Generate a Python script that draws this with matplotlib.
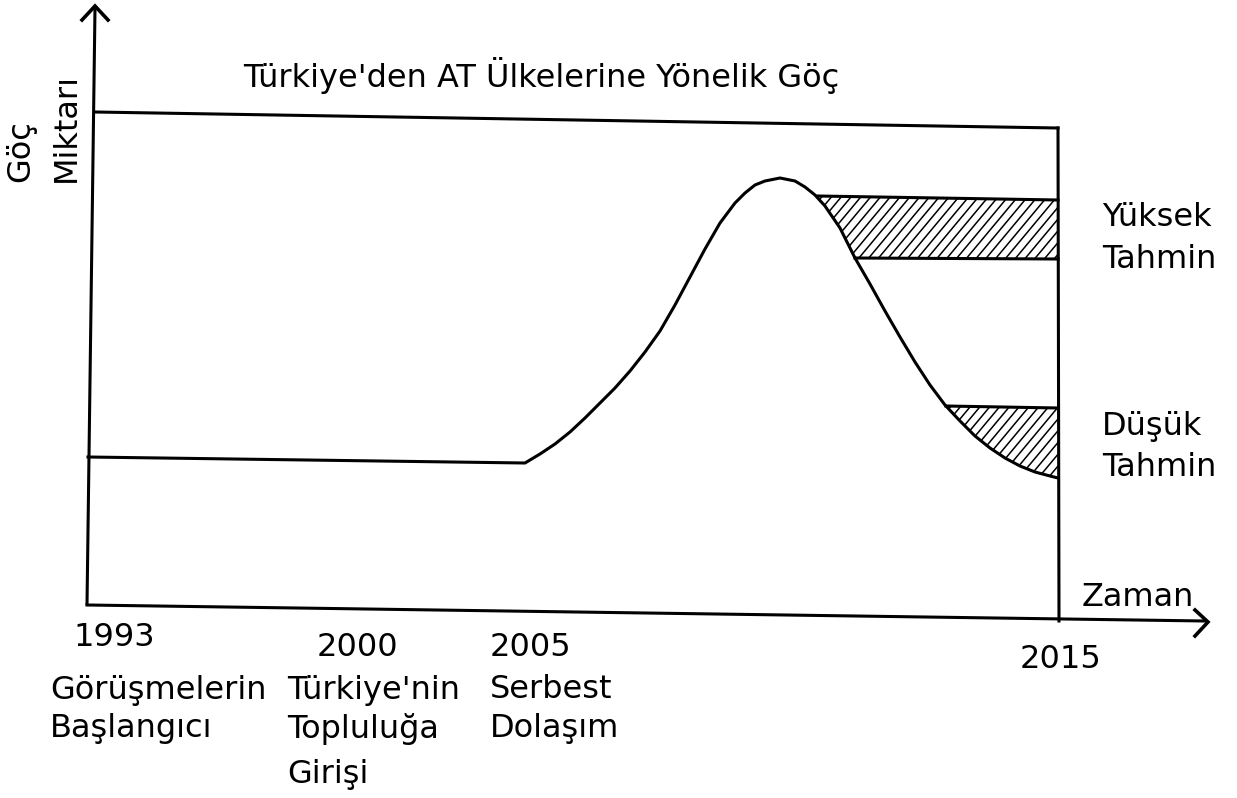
import matplotlib
matplotlib.use("Agg")
import matplotlib.pyplot as plt
import numpy as np
from matplotlib.patches import Polygon

# curve (pixel-like units, y grows downward)
curve_x = [88, 525, 540, 555, 570, 585, 600, 615, 630, 645, 660, 675, 690, 705,
           720, 735, 745, 755, 765, 780, 795, 805, 815, 825, 840, 855, 870, 885,
           900, 915, 930, 945, 960, 975, 990, 1005, 1020, 1035, 1050, 1058]
curve_y = [457, 463, 454, 444, 432, 418, 403, 388, 371, 352, 331, 305, 277, 249,
           223, 203, 193, 185, 181, 178, 181, 187, 195, 206, 228, 258, 284, 311,
           337, 362, 385, 405, 421, 436, 448, 458, 466, 472, 476, 478]

# forecast bands
high_top_x, high_top_y = [818, 1058], [196, 200]
high_bot_x, high_bot_y = [855, 1058], [258, 259]
low_top_x, low_top_y = [946, 1058], [406, 408]

years = ["1993", "2000", "2005", "2015"]
events = [["Görüşmelerin", "Başlangıcı"],
          ["Türkiye'nin", "Topluluğa", "Girişi"],
          ["Serbest", "Dolaşım"]]

FS = 23
LW = 2.2

fig = plt.figure(figsize=(12.37, 7.98), dpi=100)
ax = fig.add_axes([0, 0, 1, 1])
ax.set_xlim(0, 1237)
ax.set_ylim(798, 0)
ax.axis("off")

cx = np.array(curve_x)
cy = np.array(curve_y)

# frame: axes, top line, right line
ax.plot([95, 87], [8, 605], color="k", lw=LW, solid_capstyle="butt")
ax.plot([87, 1205], [605, 621], color="k", lw=LW)
ax.plot([95, 1058], [112, 128], color="k", lw=LW)
ax.plot([1058, 1059], [128, 621], color="k", lw=LW)
# arrow heads
ax.plot([82, 95, 108], [20, 6, 20], color="k", lw=2.6, solid_joinstyle="miter")
ax.plot([1195, 1208, 1195], [610, 622, 636], color="k", lw=2.6, solid_joinstyle="miter")

ax.plot(cx, cy, color="k", lw=LW, solid_joinstyle="round")

# band edges
ax.plot(high_top_x, high_top_y, color="k", lw=LW)
ax.plot(high_bot_x, high_bot_y, color="k", lw=LW)
ax.plot(low_top_x, low_top_y, color="k", lw=LW)

# hatched regions
m1 = (cx > high_top_x[0]) & (cx < high_bot_x[0])
high_poly = ([(high_top_x[0], high_top_y[0]), (high_top_x[1], high_top_y[1]),
              (high_bot_x[1], high_bot_y[1]), (high_bot_x[0], high_bot_y[0])]
             + list(zip(cx[m1][::-1], cy[m1][::-1])))
m2 = cx > low_top_x[0]
low_poly = ([(low_top_x[0], low_top_y[0]), (low_top_x[1], low_top_y[1])]
            + list(zip(cx[m2][::-1], cy[m2][::-1])))

slope = 1.2
for pts in (high_poly, low_poly):
    patch = Polygon(pts, closed=True, facecolor="none", edgecolor="none")
    ax.add_patch(patch)
    for x0 in np.arange(400, 1300, 9.8):
        ln, = ax.plot([x0, x0 + 400 / slope], [550, 150], color="k", lw=1.1)
        ln.set_clip_path(patch)

ax.text(243, 75, "Türkiye'den AT Ülkelerine Yönelik Göç", fontsize=FS,
        ha="left", va="center")
ax.text(21, 182, "Göç", fontsize=FS, rotation=90, ha="center", va="bottom")
ax.text(66, 182, "Miktarı", fontsize=FS, rotation=90, ha="center", va="bottom")
ax.text(1082, 598, "Zaman", fontsize=FS, ha="left", va="center")
ax.text(1102, 218, "Yüksek", fontsize=FS, ha="left", va="center")
ax.text(1102, 259, "Tahmin", fontsize=FS, ha="left", va="center")
ax.text(1102, 427, "Düşük", fontsize=FS, ha="left", va="center")
ax.text(1102, 468, "Tahmin", fontsize=FS, ha="left", va="center")

year_pos = [(73, 638), (317, 648), (490, 648), (1020, 660)]
for lab, (x, y) in zip(years, year_pos):
    ax.text(x, y, lab, fontsize=FS, ha="left", va="center")

event_x = [50, 287, 490]
event_y = [690, 729, 774]
for x, lines in zip(event_x, events):
    for y, s in zip(event_y, lines):
        ax.text(x, y, s, fontsize=FS, ha="left", va="center")

fig.savefig("out.png", dpi=100, facecolor="white")
